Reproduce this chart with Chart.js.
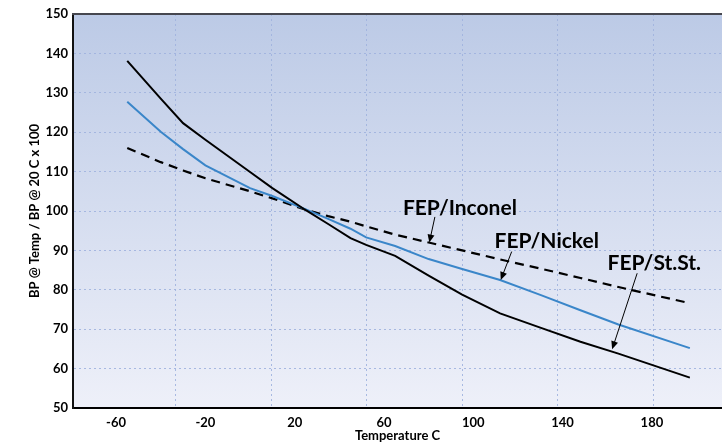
<!DOCTYPE html>
<html>
<head>
<meta charset="utf-8">
<script src="https://cdn.jsdelivr.net/npm/chart.js@4.4.0/dist/chart.umd.min.js"></script>
<style>
  body { margin: 0; background: #fff; overflow: hidden; }
</style>
</head>
<body>
<canvas id="bpChart" width="722" height="444"></canvas>
<script>
// temperatures (C) where the curves were read
let temps = [-55, -40, -30, -20, 0, 10, 25, 35, 45, 52, 65, 80, 95, 112, 130, 148, 165, 197];
// BP @ Temp / BP @ 20 C x 100
let stainless = [138.1, 128.5, 122.3, 118.1, 109.9, 105.8, 100.2, 96.7, 93.1, 91.4, 88.6, 83.6, 78.8, 74.0, 70.4, 66.8, 63.8, 57.7];
let nickel = [127.7, 120.1, 115.7, 111.6, 105.8, 103.8, 100.4, 98.0, 95.5, 93.3, 91.1, 87.8, 85.3, 82.5, 78.7, 74.8, 71.2, 65.2];
let inconel = [116.0, 112.4, 110.3, 108.3, 105.0, 103.2, 100.3, 98.7, 97.3, 96.1, 94.0, 92.0, 90.0, 87.7, 85.4, 83.0, 80.7, 76.6];

let tickTemps = [-60, -20, 20, 60, 100, 140, 180];
let gridTemps = [-33.6, 9.4, 52.2, 95, 137.5, 180.5];

// callouts: text, where the text sits, arrow start and arrow tip (data units)
let calloutText = ["FEP/Inconel", "FEP/Nickel", "FEP/St.St."];
let calloutAt = [[94, 100.8], [132.9, 92.3], [181.1, 86.7]];
let arrowFrom = [[82.8, 98.5], [117.2, 89.7], [173.4, 84.2]];
let arrowTo = [[80.3, 92.0], [112.3, 82.5], [162.2, 64.9]];

let gridBlue = 'rgba(160, 178, 222, 0.9)';

Chart.defaults.font.family = "Lato, 'DejaVu Sans', sans-serif";
Chart.defaults.font.weight = 'bold';
Chart.defaults.color = '#000';

function toPoints(ys) {
    return temps.map((t, i) => ({ x: t, y: ys[i] }));
}

let plotBackground = {
    id: 'plotBackground',
    beforeDraw(chart) {
        let { ctx, chartArea: a } = chart;
        let g = ctx.createLinearGradient(0, a.top, 0, a.bottom);
        g.addColorStop(0, '#bccae6');
        g.addColorStop(1, '#eef0f9');
        ctx.save();
        ctx.fillStyle = g;
        ctx.fillRect(a.left, a.top, a.right - a.left, a.bottom - a.top);
        ctx.restore();
    },
    afterDraw(chart) {
        // dark frame line along the top of the plot
        let { ctx, chartArea: a } = chart;
        ctx.save();
        ctx.strokeStyle = '#46474f';
        ctx.lineWidth = 2;
        ctx.beginPath();
        ctx.moveTo(a.left - 1, a.top);
        ctx.lineTo(a.right, a.top);
        ctx.stroke();
        ctx.restore();
    }
};

let callouts = {
    id: 'callouts',
    afterDatasetsDraw(chart) {
        let { ctx, scales } = chart;
        let px = v => scales.x.getPixelForValue(v);
        let py = v => scales.y.getPixelForValue(v);
        ctx.save();
        ctx.fillStyle = '#000';
        ctx.strokeStyle = '#000';
        ctx.font = "bold 21px Lato, 'DejaVu Sans', sans-serif";
        ctx.textAlign = 'center';
        ctx.textBaseline = 'middle';
        for (let i = 0; i < calloutText.length; i++) {
            ctx.fillText(calloutText[i], px(calloutAt[i][0]), py(calloutAt[i][1]));
            let x1 = px(arrowFrom[i][0]), y1 = py(arrowFrom[i][1]);
            let x2 = px(arrowTo[i][0]), y2 = py(arrowTo[i][1]);
            let ang = Math.atan2(y2 - y1, x2 - x1);
            ctx.lineWidth = 1;
            ctx.beginPath();
            ctx.moveTo(x1, y1);
            ctx.lineTo(x2 - 5 * Math.cos(ang), y2 - 5 * Math.sin(ang));
            ctx.stroke();
            ctx.beginPath();
            ctx.moveTo(x2, y2);
            ctx.lineTo(x2 - 8 * Math.cos(ang) + 3.5 * Math.sin(ang), y2 - 8 * Math.sin(ang) - 3.5 * Math.cos(ang));
            ctx.lineTo(x2 - 8 * Math.cos(ang) - 3.5 * Math.sin(ang), y2 - 8 * Math.sin(ang) + 3.5 * Math.cos(ang));
            ctx.closePath();
            ctx.fill();
        }
        ctx.restore();
    }
};

let ctx = document.getElementById('bpChart');
let myChart = new Chart(ctx, {
    type: 'line',
    data: {
        datasets: [{
            label: 'FEP/St.St.',
            data: toPoints(stainless),
            borderColor: '#000',
            borderWidth: 2,
            pointRadius: 0
        }, {
            label: 'FEP/Nickel',
            data: toPoints(nickel),
            borderColor: '#3a86c9',
            borderWidth: 2,
            pointRadius: 0
        }, {
            label: 'FEP/Inconel',
            data: toPoints(inconel),
            borderColor: '#000',
            borderWidth: 2.2,
            borderDash: [9, 6],
            pointRadius: 0
        }]
    },
    options: {
        responsive: false,
        animation: false,
        layout: { padding: { top: 14, right: 0, bottom: 0, left: 0 } },
        plugins: {
            legend: { display: false },
            tooltip: { enabled: false }
        },
        scales: {
            x: {
                type: 'linear',
                min: -79.3,
                max: 211.4,
                afterBuildTicks: s => { s.ticks = tickTemps.map(v => ({ value: v })); },
                afterFit: s => { s.height = 36; },
                grid: { display: false, drawTicks: false },
                border: { color: '#000', width: 2 },
                ticks: { padding: 7, font: { size: 13, weight: 'bold' }, color: '#000' },
                title: {
                    display: true,
                    text: 'Temperature C',
                    font: { size: 13, weight: 'bold' },
                    color: '#000',
                    padding: { top: 0, bottom: 0 }
                }
            },
            xg: {
                type: 'linear',
                position: 'top',
                min: -79.3,
                max: 211.4,
                afterBuildTicks: s => { s.ticks = gridTemps.map(v => ({ value: v })); },
                afterFit: s => { s.height = 0; },
                ticks: { display: false },
                grid: { color: gridBlue, lineWidth: 1, drawTicks: false },
                border: { display: false, dash: [2, 3] }
            },
            y: {
                min: 50,
                max: 150,
                afterFit: s => { s.width = 73; },
                ticks: { stepSize: 10, padding: 5, font: { size: 13, weight: 'bold' }, color: '#000' },
                grid: { color: gridBlue, lineWidth: 1, drawTicks: false },
                border: { color: '#111', width: 2, dash: [2, 3] },
                title: {
                    display: true,
                    text: 'BP @ Temp / BP @ 20 C x 100',
                    font: { size: 13, weight: 'bold' },
                    color: '#000',
                    padding: { top: 27, bottom: 27 }
                }
            }
        }
    },
    plugins: [plotBackground, callouts]
});
</script>
</body>
</html>
